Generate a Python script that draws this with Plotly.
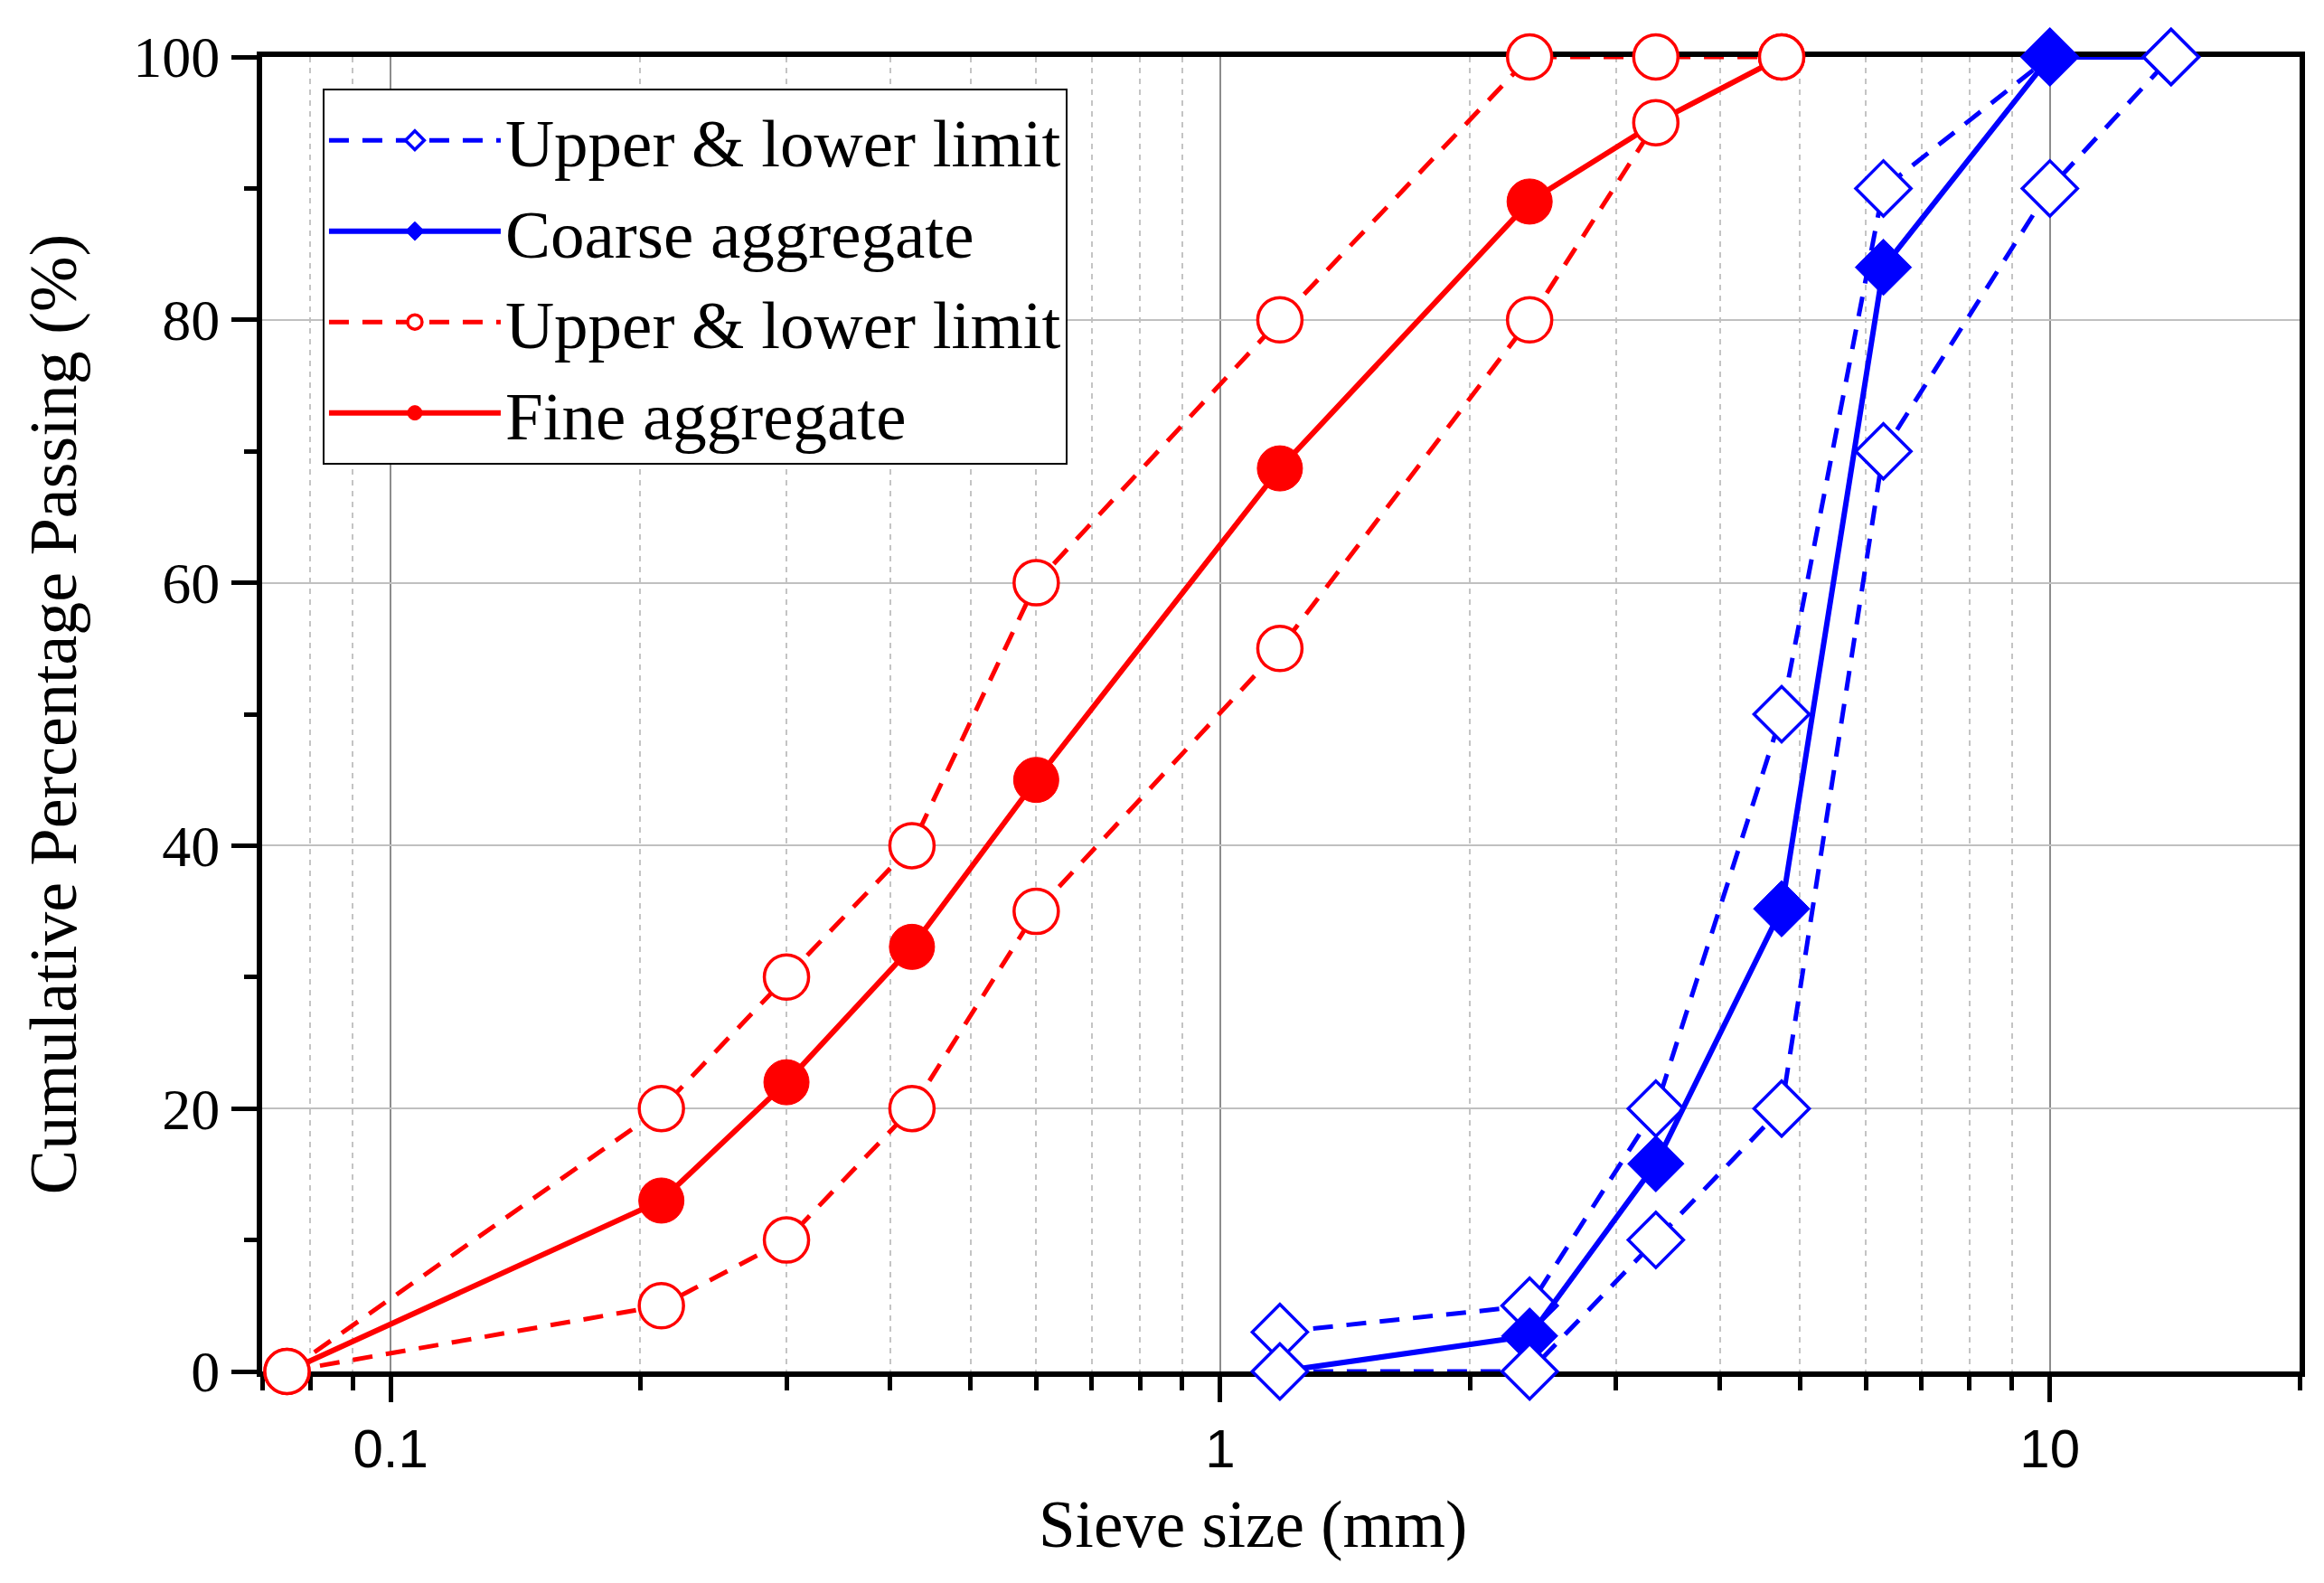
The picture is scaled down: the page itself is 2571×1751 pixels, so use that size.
import plotly.graph_objects as go

# Sieve sizes (mm)
fine_sieves = [0.075, 0.212, 0.3, 0.425, 0.6, 1.18, 2.36, 3.35, 4.75]
coarse_sieves = [1.18, 2.36, 3.35, 4.75, 6.3, 10, 14]

# Cumulative passing (%)
fine_upper = [0, 20, 30, 40, 60, 80, 100, 100, 100]
fine_lower = [0, 5, 10, 20, 35, 55, 80, 95, 100]
fine_agg = [0, 13, 22, 32.3, 45, 68.7, 89, 95, 100]

coarse_upper = [3, 5, 20, 50, 90, 100, 100]
coarse_lower = [0, 0, 10, 20, 70, 90, 100]
coarse_agg = [0, 2.7, 15.8, 35.2, 84, 100, 100]

x_tick_vals = [0.1, 1, 10]
x_tick_text = ['0.1', '1', '10']

BLUE = '#0000ff'
RED = '#ff0000'
SERIF = 'Liberation Serif'
SANS = 'Liberation Sans'


def limit_trace(x, y, color, symbol, size, name, show, rank):
    return go.Scatter(
        x=x, y=y, mode='lines+markers', name=name,
        legendgroup=name + color, showlegend=show, legendrank=rank,
        line=dict(color=color, width=5, dash='22px,15px'),
        marker=dict(symbol=symbol, size=size, color='white',
                    line=dict(color=color, width=3.5)),
        cliponaxis=False,
    )


def agg_trace(x, y, color, symbol, size, name, rank):
    return go.Scatter(
        x=x, y=y, mode='lines+markers', name=name, legendrank=rank,
        line=dict(color=color, width=6),
        marker=dict(symbol=symbol, size=size, color=color,
                    line=dict(color=color, width=1)),
        cliponaxis=False,
    )


fig = go.Figure()

# fine aggregate sits beneath its limits, coarse sits between its limits
fig.add_trace(agg_trace(fine_sieves, fine_agg, RED, 'circle', 50, 'Fine aggregate', 4))
fig.add_trace(limit_trace(fine_sieves, fine_upper, RED, 'circle', 49,
                          'Upper &amp; lower limit', True, 3))
fig.add_trace(limit_trace(fine_sieves, fine_lower, RED, 'circle', 49,
                          'Upper &amp; lower limit', False, 3))
fig.add_trace(limit_trace(coarse_sieves, coarse_upper, BLUE, 'diamond', 47,
                          'Upper &amp; lower limit', True, 1))
fig.add_trace(agg_trace(coarse_sieves, coarse_agg, BLUE, 'diamond', 48, 'Coarse aggregate', 2))
fig.add_trace(limit_trace(coarse_sieves, coarse_lower, BLUE, 'diamond', 47,
                          'Upper &amp; lower limit', False, 1))

minor_x = [m * 10 ** e for e in (-2, -1, 0, 1) for m in range(2, 10)]
minor_x = [v for v in minor_x if 0.069 < v < 20.1]

fig.update_layout(
    width=2571, height=1751,
    plot_bgcolor='white', paper_bgcolor='white',
    margin=dict(l=282, r=35, t=55, b=242),
    font=dict(family=SERIF, size=64, color='black'),
    legend=dict(
        x=0.0297, y=0.976, xanchor='left', yanchor='top',
        bgcolor='white', bordercolor='black', borderwidth=2,
        font=dict(family=SERIF, size=75, color='black'),
        itemwidth=190, traceorder='normal',
    ),
    xaxis=dict(
        type='log', range=[-1.154902, 1.30103],
        tickvals=x_tick_vals, ticktext=x_tick_text,
        tickfont=dict(family=SANS, size=60, color='black'),
        ticks='outside', ticklen=28, tickwidth=5, tickcolor='black',
        showline=True, linewidth=6, linecolor='black', mirror=True,
        showgrid=True, gridcolor='#8c8c8c', gridwidth=2,
        minor=dict(tickvals=minor_x, ticks='outside', ticklen=15,
                   tickwidth=5, tickcolor='black', showgrid=True,
                   gridcolor='#c4c4c4', gridwidth=2, griddash='6px,6px'),
        zeroline=False, layer='below traces', automargin=False,
    ),
    yaxis=dict(
        range=[0, 100], dtick=20,
        tickfont=dict(family=SERIF, size=64, color='black'),
        ticks='outside', ticklen=28, tickwidth=5, tickcolor='black',
        showline=True, linewidth=6, linecolor='black', mirror=True,
        showgrid=True, gridcolor='#c0c0c0', gridwidth=2,
        minor=dict(dtick=10, ticks='outside', ticklen=14, tickwidth=5,
                   tickcolor='black', showgrid=False),
        zeroline=False, layer='below traces', automargin=False,
        title=dict(text='Cumulative Percentage Passing (%)', standoff=40,
                   font=dict(family=SERIF, size=74, color='black')),
    ),
)

# x-axis title sits a little left of centre in the original
fig.add_annotation(
    text='Sieve size (mm)', xref='paper', yref='paper',
    x=0.4863, y=-0.1165, xanchor='center', yanchor='middle',
    showarrow=False, font=dict(family=SERIF, size=73, color='black'),
)

fig.write_html("out.html")
